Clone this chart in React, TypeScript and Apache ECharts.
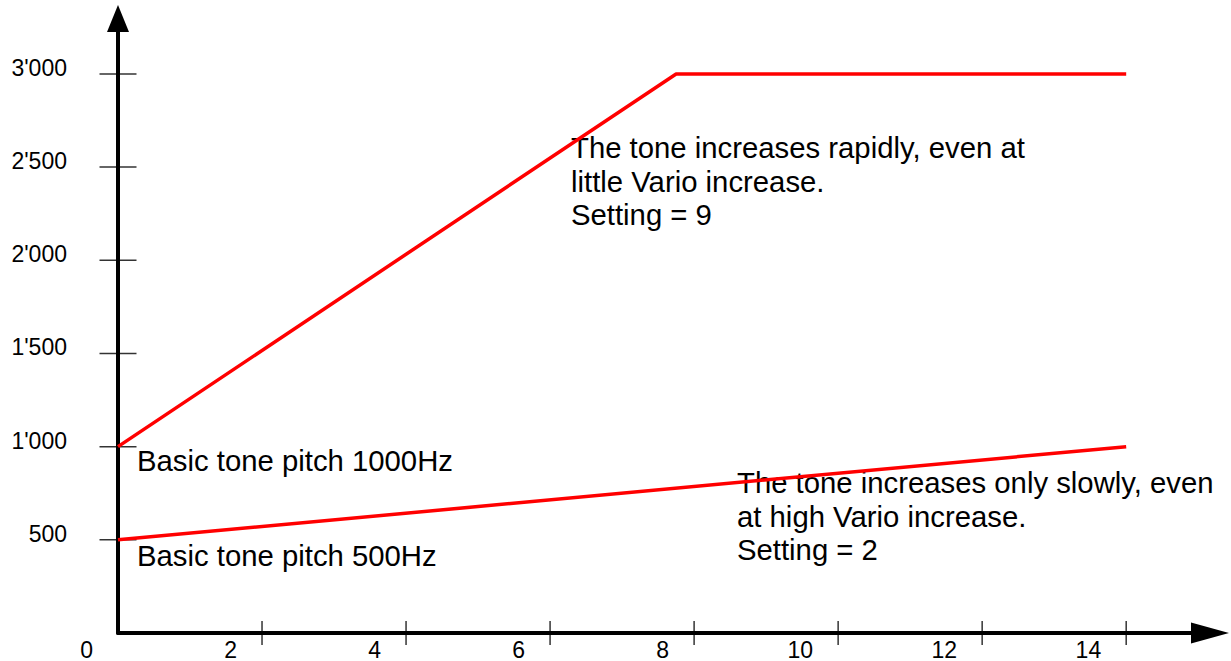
import React, { useEffect, useRef } from "react";
import * as echarts from "echarts";

const xTicks = [2, 4, 6, 8, 10, 12, 14];
const yTicks = [500, 1000, 1500, 2000, 2500, 3000];
const setting9 = [
  [0, 1000],
  [7.75, 3000],
  [14, 3000],
];
const setting2 = [
  [0, 500],
  [14, 1000],
];
const note9 = ["The tone increases rapidly, even at", "little Vario increase.", "Setting = 9"];
const note2 = ["The tone increases only slowly, even", "at high Vario increase.", "Setting = 2"];
const base1000 = "Basic tone pitch 1000Hz";
const base500 = "Basic tone pitch 500Hz";

const FONT = '"Liberation Sans", Arial, Helvetica, sans-serif';

function fmtThousands(v: number): string {
  const s = String(Math.round(v));
  return s.replace(/\B(?=(\d{3})+(?!\d))/g, "'");
}

export default function App() {
  const ref = useRef<HTMLDivElement>(null);
  useEffect(() => {
    document.body.style.margin = "0";
    if (!ref.current) return;
    const chart = echarts.init(ref.current, undefined, { renderer: "svg" });
    const textStyle = (t: string, x: number, y: number) => ({
      type: "text",
      x,
      y,
      silent: true,
      style: {
        text: t,
        fontSize: 29.3,
        fontFamily: FONT,
        fill: "#000",
        lineHeight: 33.5,
        verticalAlign: "top",
        align: "left",
      },
    });
    chart.setOption({
      animation: false,
      backgroundColor: "#fff",
      textStyle: { fontFamily: FONT },
      grid: { left: 118, right: 40, top: 32, bottom: 28, containLabel: false },
      xAxis: {
        type: "value",
        min: 0,
        max: 14.9,
        interval: 2,
        splitLine: { show: false },
        axisTick: { show: false },
        axisLine: {
          lineStyle: { color: "#000", width: 4 },
          symbol: ["none", "triangle"],
          symbolSize: [21, 38],
          symbolOffset: [0, 19],
        },
        axisLabel: {
          color: "#000",
          fontSize: 23,
          fontFamily: FONT,
          margin: 5,
          align: "right",
          padding: [0, 25, 0, 0],
          formatter: (v: number) => (Math.abs(v % 2) < 1e-9 ? String(v) : ""),
        },
      },
      yAxis: {
        type: "value",
        min: 0,
        max: 3225,
        interval: 500,
        splitLine: { show: false },
        axisTick: { show: false },
        axisLine: {
          lineStyle: { color: "#000", width: 4 },
          symbol: ["none", "triangle"],
          symbolSize: [22, 27],
          symbolOffset: [0, 13.5],
        },
        axisLabel: {
          color: "#000",
          fontSize: 23,
          fontFamily: FONT,
          margin: 51,
          lineHeight: 12,
          verticalAlign: "bottom",
          formatter: (v: number) => (v > 0 && v % 500 === 0 ? fmtThousands(v) : ""),
        },
      },
      series: [
        {
          type: "scatter",
          silent: true,
          symbol: "rect",
          symbolSize: [37, 1.5],
          itemStyle: { color: "#000" },
          data: yTicks.map((v) => [0, v]),
          z: 3,
        },
        {
          type: "scatter",
          silent: true,
          symbol: "rect",
          symbolSize: [1.5, 24],
          itemStyle: { color: "#000" },
          data: xTicks.map((v) => [v, 0]),
          z: 3,
        },
        {
          type: "line",
          name: "Setting 9",
          data: setting9,
          symbol: "none",
          silent: true,
          lineStyle: { color: "#ff0000", width: 3.5 },
          z: 4,
        },
        {
          type: "line",
          name: "Setting 2",
          data: setting2,
          symbol: "none",
          silent: true,
          lineStyle: { color: "#ff0000", width: 3.5 },
          z: 4,
        },
      ],
      graphic: [
        textStyle(note9.join("\n"), 571, 131),
        textStyle(base1000, 137, 444),
        textStyle(base500, 137, 539),
        textStyle(note2.join("\n"), 737, 466),
      ],
    });
    return () => chart.dispose();
  }, []);
  return <div ref={ref} style={{ width: 1231, height: 661 }} />;
}
